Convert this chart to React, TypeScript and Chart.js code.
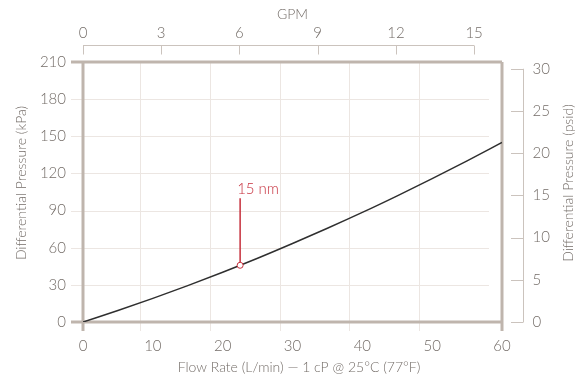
import { useEffect, useRef } from 'react';
import { Chart, registerables } from 'chart.js';

Chart.register(...registerables);

// ---- data ----
const FLOW_LPM = [0, 5, 10, 15, 20, 25, 30, 35, 40, 45, 50, 55, 60];
const DP_KPA = [0, 9.3, 19.1, 29.4, 40.2, 51.5, 63.4, 75.7, 88.5, 101.9, 115.8, 130.2, 145];
const MARKER_FLOW = [22.5];
const MARKER_DP = [45.8];
const MARKER_LABEL_DP = [100];
const MARKER_LABELS = ['15 nm'];

const X_TITLE = 'Flow Rate (L/min) — 1 cP @ 25°C (77°F)';
const X2_TITLE = 'GPM';
const Y_TITLE = 'Differential Pressure (kPa)';
const Y2_TITLE = 'Differential Pressure (psid)';

const X_RANGE = [0, 60];
const X2_RANGE = [0, 16.07];
const Y_RANGE = [0, 210];
const Y2_RANGE = [0, 30.8];

// ---- styles ----
const FONT = 'Lato';
const WEIGHT = '300';
const TEXT = '#746d68';
const GRID = '#ece6e2';
const FRAME = '#bfb5ad';
const AXIS2 = '#cbc3bd';
const CURVE = '#2f2f2f';
const RED = '#c62f3c';
const GRID_SHIFT = 13;

const decor = {
  id: 'decor',
  beforeDatasetsDraw(chart: any) {
    const { ctx, chartArea: ca, scales } = chart;
    const x = scales.x, y = scales.y, x2 = scales.x2, y2 = scales.y2;
    const line = (a: number, b: number, c: number, d: number) => {
      ctx.beginPath();
      ctx.moveTo(a, b);
      ctx.lineTo(c, d);
      ctx.stroke();
    };
    ctx.save();
    // grid
    ctx.strokeStyle = GRID;
    ctx.lineWidth = 1;
    x.ticks.forEach((t: any) => {
      if (t.value <= x.min || t.value >= x.max) return;
      const px = Math.round(x.getPixelForValue(t.value) - GRID_SHIFT) + 0.5;
      line(px, ca.top, px, ca.bottom + 9);
    });
    y.ticks.forEach((t: any) => {
      if (t.value <= y.min || t.value >= y.max) return;
      const py = Math.round(y.getPixelForValue(t.value)) + 0.5;
      line(ca.left - 12, py, ca.right - GRID_SHIFT, py);
    });
    // frame
    ctx.strokeStyle = FRAME;
    ctx.lineWidth = 3;
    line(ca.left, ca.top, ca.left, ca.bottom + 9);
    line(ca.right, ca.top, ca.right, ca.bottom + 9);
    line(ca.left - 12, ca.top, ca.right, ca.top);
    line(ca.left - 12, ca.bottom, ca.right, ca.bottom);
    // top GPM axis
    ctx.strokeStyle = AXIS2;
    ctx.lineWidth = 1;
    const ty = ca.top - 16.5;
    const xt = x2.ticks;
    line(x2.getPixelForValue(xt[0].value), ty, x2.getPixelForValue(xt[xt.length - 1].value), ty);
    xt.forEach((t: any) => {
      const px = Math.round(x2.getPixelForValue(t.value)) + 0.5;
      line(px, ty, px, ty + 9);
    });
    // right psid axis
    const rx = ca.right + 21.5;
    const yt = y2.ticks;
    line(rx, y2.getPixelForValue(yt[0].value), rx, y2.getPixelForValue(yt[yt.length - 1].value));
    yt.forEach((t: any) => {
      const py = Math.round(y2.getPixelForValue(t.value)) + 0.5;
      line(ca.right + 9, py, rx, py);
    });
    // axis titles
    ctx.fillStyle = TEXT;
    ctx.font = `${WEIGHT} 14px ${FONT}`;
    ctx.textAlign = 'center';
    ctx.textBaseline = 'middle';
    const midY = (ca.top + ca.bottom) / 2 - 9;
    ctx.fillText(X_TITLE, (ca.left + ca.right) / 2 + 6.5, chart.height - 11.5);
    ctx.save();
    ctx.translate(21, midY);
    ctx.rotate(-Math.PI / 2);
    ctx.fillText(Y_TITLE, 0, 0);
    ctx.restore();
    ctx.save();
    ctx.translate(chart.width - 14, midY);
    ctx.rotate(-Math.PI / 2);
    ctx.fillText(Y2_TITLE, 0, 0);
    ctx.restore();
    ctx.restore();
  },
  afterDatasetsDraw(chart: any) {
    const { ctx, scales } = chart;
    ctx.save();
    ctx.fillStyle = RED;
    ctx.font = `${WEIGHT} 15px ${FONT}`;
    ctx.textAlign = 'left';
    ctx.textBaseline = 'bottom';
    MARKER_LABELS.forEach((lab, i) => {
      const px = scales.x.getPixelForValue(MARKER_FLOW[i]);
      const py = scales.y.getPixelForValue(MARKER_LABEL_DP[i]);
      ctx.fillText(lab, px - 3, py - 2);
    });
    ctx.restore();
  },
};

export default function App() {
  const ref = useRef<HTMLCanvasElement>(null);
  useEffect(() => {
    if (!ref.current) return;
    Chart.defaults.font.family = FONT;
    const tickFont = { family: FONT, size: 15, weight: WEIGHT };
    const titleFont = { family: FONT, size: 14, weight: WEIGHT };
    const noGrid = { display: false, drawTicks: false };
    const chart = new Chart(ref.current, {
      type: 'line',
      data: {
        datasets: [
          {
            label: 'marker',
            data: MARKER_FLOW.map((f, i) => ({ x: f, y: MARKER_DP[i] })),
            showLine: false,
            pointRadius: 3,
            pointBackgroundColor: '#ffffff',
            pointBorderColor: RED,
            pointBorderWidth: 1,
          },
          {
            label: 'leader',
            data: MARKER_FLOW.flatMap((f, i) => [
              { x: f, y: MARKER_DP[i] },
              { x: f, y: MARKER_LABEL_DP[i] },
            ]),
            borderColor: RED,
            borderWidth: 1.5,
            pointRadius: 0,
          },
          {
            label: 'curve',
            data: FLOW_LPM.map((f, i) => ({ x: f, y: DP_KPA[i] })),
            borderColor: CURVE,
            borderWidth: 1.5,
            pointRadius: 0,
            cubicInterpolationMode: 'monotone',
          },
        ],
      },
      options: {
        animation: false,
        responsive: true,
        maintainAspectRatio: false,
        layout: { padding: 0 },
        plugins: { legend: { display: false }, tooltip: { enabled: false } },
        scales: {
          x: {
            type: 'linear',
            position: 'bottom',
            min: X_RANGE[0],
            max: X_RANGE[1],
            grid: noGrid,
            border: { display: false },
            ticks: { stepSize: 10, color: TEXT, font: tickFont, padding: 15, maxRotation: 0 },
            title: { display: false },
            afterFit: (s: any) => { s.height = 57; },
          },
          x2: {
            type: 'linear',
            position: 'top',
            min: X2_RANGE[0],
            max: X2_RANGE[1],
            grid: noGrid,
            border: { display: false },
            ticks: { stepSize: 3, includeBounds: false, color: TEXT, font: tickFont, padding: 20, maxRotation: 0 },
            title: { display: true, text: X2_TITLE, color: TEXT, font: titleFont, padding: { top: 6, bottom: 0 } },
            afterFit: (s: any) => { s.height = 62; },
          },
          y: {
            type: 'linear',
            position: 'left',
            min: Y_RANGE[0],
            max: Y_RANGE[1],
            grid: noGrid,
            border: { display: false },
            ticks: { stepSize: 30, color: TEXT, font: tickFont, padding: 17 },
            title: { display: false },
            afterFit: (s: any) => { s.width = 83; },
          },
          y2: {
            type: 'linear',
            position: 'right',
            min: Y2_RANGE[0],
            max: Y2_RANGE[1],
            grid: noGrid,
            border: { display: false },
            ticks: { stepSize: 5, includeBounds: false, color: TEXT, font: tickFont, padding: 30.5 },
            title: { display: false },
            afterFit: (s: any) => { s.width = 80; },
          },
        },
      },
      plugins: [decor],
    });
    return () => chart.destroy();
  }, []);
  return (
    <div style={{ position: 'fixed', left: 0, top: 0, width: 582, height: 379, background: '#fff' }}>
      <canvas ref={ref} />
    </div>
  );
}
